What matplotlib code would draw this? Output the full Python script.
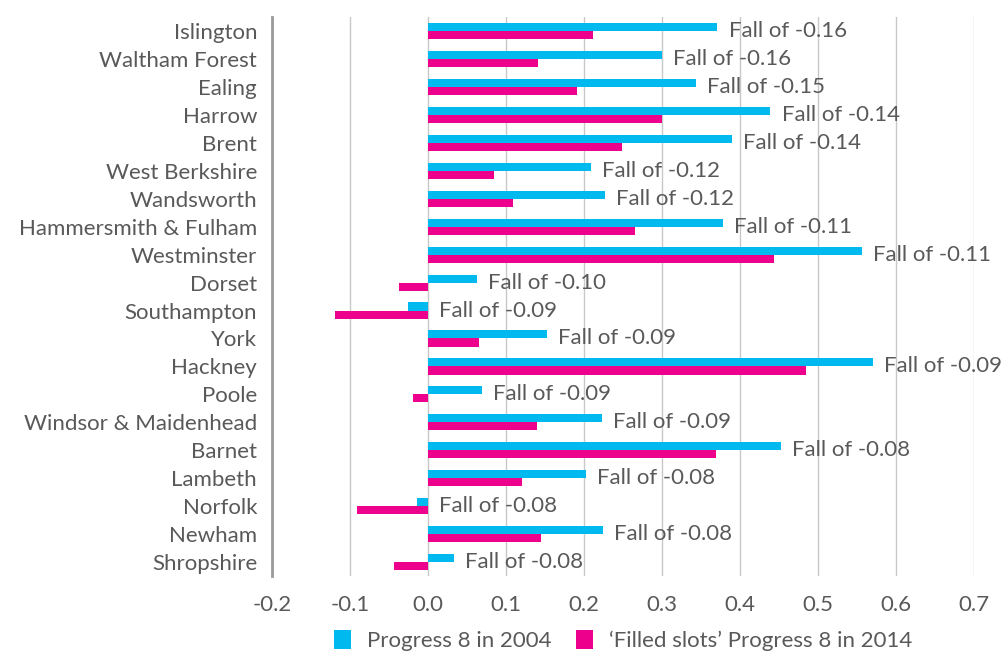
import numpy as np
import matplotlib.pyplot as plt

areas = ['Islington', 'Waltham Forest', 'Ealing', 'Harrow', 'Brent', 'West Berkshire',
         'Wandsworth', 'Hammersmith & Fulham', 'Westminster', 'Dorset', 'Southampton',
         'York', 'Hackney', 'Poole', 'Windsor & Maidenhead', 'Barnet', 'Lambeth',
         'Norfolk', 'Newham', 'Shropshire']
p8_2004 = [0.371, 0.300, 0.344, 0.439, 0.390, 0.209, 0.227, 0.378, 0.557, 0.062,
           -0.026, 0.152, 0.571, 0.069, 0.223, 0.452, 0.202, -0.015, 0.224, 0.033]
p8_2014 = [0.211, 0.141, 0.191, 0.300, 0.249, 0.085, 0.109, 0.265, 0.443, -0.038,
           -0.120, 0.065, 0.485, -0.019, 0.139, 0.369, 0.120, -0.092, 0.145, -0.044]
falls = [-0.16, -0.16, -0.15, -0.14, -0.14, -0.12, -0.12, -0.11, -0.11, -0.10,
         -0.09, -0.09, -0.09, -0.09, -0.09, -0.08, -0.08, -0.08, -0.08, -0.08]
xticks = [-0.2, -0.1, 0.0, 0.1, 0.2, 0.3, 0.4, 0.5, 0.6, 0.7]

blue = '#00B9EF'
pink = '#EC008C'
grey = '#595959'

plt.rcParams['font.family'] = ['Lato', 'DejaVu Sans']

fig = plt.figure(figsize=(10.05, 6.62), dpi=100)
ax = fig.add_axes([0.271, 0.130, 0.698, 0.844])

y = np.arange(len(areas))
h = 0.29
ax.barh(y - h / 2, p8_2004, height=h, color=blue, label='Progress 8 in 2004', zorder=3)
ax.barh(y + h / 2, p8_2014, height=h, color=pink, label='\u2018Filled slots\u2019 Progress 8 in 2014', zorder=3)

# labels next to the 2004 bar
for i in range(len(areas)):
    end = max(p8_2004[i], 0)
    ax.annotate('Fall of %.2f' % falls[i], xy=(end, y[i]), xytext=(8, 0),
                textcoords='offset points', va='center', ha='left',
                fontsize=16, color=grey, zorder=4, annotation_clip=False)

ax.set_xlim(-0.2, 0.7)
ax.set_ylim(len(areas) - 0.5, -0.5)
ax.set_xticks(xticks)
ax.set_xticklabels(['%.1f' % t for t in xticks])
ax.set_yticks(y)
ax.set_yticklabels(areas)
ax.tick_params(axis='both', length=0, labelsize=16, labelcolor=grey)
ax.tick_params(axis='y', pad=11)
ax.tick_params(axis='x', pad=14)

ax.grid(axis='x', color='#c8c8c8', linewidth=1, zorder=0)
for s in ['top', 'right', 'bottom']:
    ax.spines[s].set_visible(False)
ax.spines['left'].set_color('#9a9a9a')
ax.spines['left'].set_linewidth(2)

leg = fig.legend(loc='lower center', bbox_to_anchor=(0.62, 0.0), ncol=2, frameon=False,
                 fontsize=16, handlelength=0.78, handleheight=0.95, columnspacing=1.1,
                 handletextpad=0.7, borderaxespad=0.1)
for t in leg.get_texts():
    t.set_color(grey)

fig.savefig('out.png', dpi=100)
